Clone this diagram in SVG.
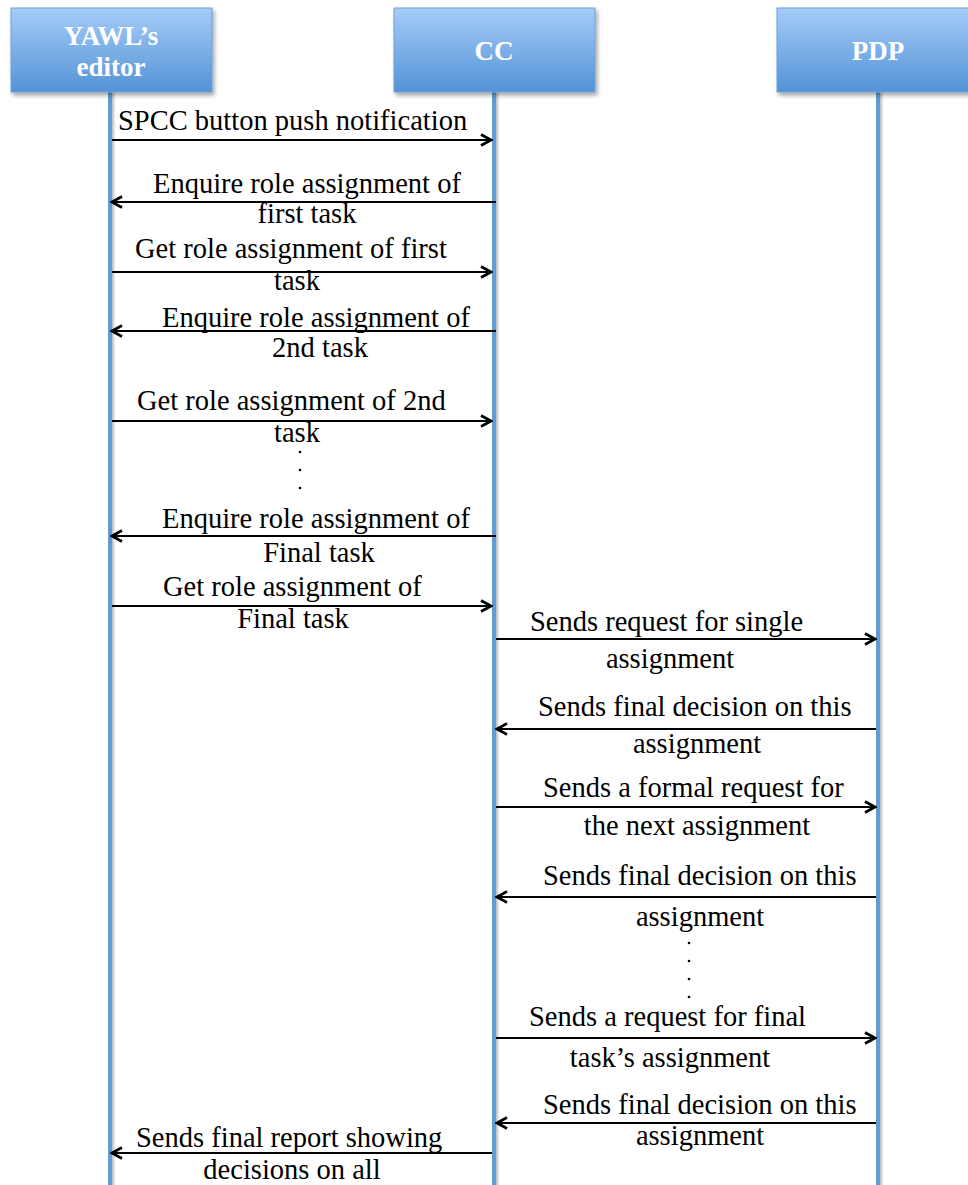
<svg xmlns="http://www.w3.org/2000/svg" width="968" height="1185" viewBox="0 0 968 1185">
  <style>
    .head { fill: url(#headFill); stroke: #6a9fd8; stroke-width: 1; filter: url(#shadow); }
    .headText { font-family: "Liberation Serif", serif; font-weight: bold; font-size: 27px; fill: #ffffff; text-anchor: middle; }
    .life { fill: #5f9bd6; filter: url(#lineShadow); }
    .msg { stroke: #000000; stroke-width: 2; fill: none; marker-end: url(#arrow); }
    .lbl { font-family: "Liberation Serif", serif; font-size: 28.5px; fill: #000000; }
    .mid { text-anchor: middle; }
    .dot { fill: #000000; }
  </style>
  <defs>
    <linearGradient id="headFill" x1="0" y1="0" x2="0" y2="1">
      <stop offset="0" stop-color="#a6ccf9"/>
      <stop offset="1" stop-color="#5393d6"/>
    </linearGradient>
    <filter id="shadow" x="-10%" y="-10%" width="130%" height="140%">
      <feDropShadow dx="2" dy="3" stdDeviation="2" flood-color="#000000" flood-opacity="0.35"/>
    </filter>
    <filter id="lineShadow" filterUnits="userSpaceOnUse" x="0" y="0" width="968" height="1185">
      <feDropShadow dx="2" dy="0" stdDeviation="1.2" flood-color="#000000" flood-opacity="0.25"/>
    </filter>
    <marker id="arrow" viewBox="0 0 14 14" refX="12" refY="7" markerWidth="14" markerHeight="14" markerUnits="userSpaceOnUse" orient="auto">
      <path d="M2,1.5 L12,7 L2,12.5" fill="none" stroke="#000000" stroke-width="2.6"/>
    </marker>
  </defs>

  <rect width="968" height="1185" fill="#ffffff"/>

  <!-- lifeline heads and their vertical lines -->
  <g id="yawl-editor">
    <rect class="life" x="108" y="92" width="4" height="1100"/>
    <rect class="head" x="11" y="8" width="201" height="84"/>
    <text class="headText" x="111" y="45">YAWL’s</text>
    <text class="headText" x="111" y="76">editor</text>
  </g>
  <g id="cc">
    <rect class="life" x="492" y="92" width="4" height="1100"/>
    <rect class="head" x="394" y="8" width="201" height="84"/>
    <text class="headText" x="494" y="60">CC</text>
  </g>
  <g id="pdp">
    <rect class="life" x="876" y="92" width="4" height="1100"/>
    <rect class="head" x="777" y="8" width="201" height="84"/>
    <text class="headText" x="878" y="60">PDP</text>
  </g>

  <!-- messages -->
  <g id="connectors">
    <line class="msg" x1="112" y1="140" x2="491" y2="140"/>
    <text class="lbl" x="118" y="130">SPCC button push notification</text>

    <line class="msg" x1="496" y1="202" x2="112" y2="202"/>
    <text class="lbl" x="153" y="193">Enquire role assignment of</text>
    <text class="lbl mid" x="307" y="223">first task</text>

    <line class="msg" x1="112" y1="272" x2="491" y2="272"/>
    <text class="lbl" x="135" y="258">Get role assignment of first</text>
    <text class="lbl mid" x="297" y="290">task</text>

    <line class="msg" x1="496" y1="331" x2="112" y2="331"/>
    <text class="lbl" x="162" y="327">Enquire role assignment of</text>
    <text class="lbl mid" x="320" y="357">2nd task</text>

    <line class="msg" x1="112" y1="421" x2="491" y2="421"/>
    <text class="lbl" x="137" y="410">Get role assignment of 2nd</text>
    <text class="lbl mid" x="297" y="442">task</text>

    <circle class="dot" cx="300" cy="452" r="1.3"/>
    <circle class="dot" cx="300" cy="470" r="1.3"/>
    <circle class="dot" cx="300" cy="488" r="1.3"/>

    <line class="msg" x1="496" y1="536" x2="112" y2="536"/>
    <text class="lbl" x="162" y="528">Enquire role assignment of</text>
    <text class="lbl mid" x="319" y="562">Final task</text>

    <line class="msg" x1="112" y1="606" x2="491" y2="606"/>
    <text class="lbl" x="163" y="596">Get role assignment of</text>
    <text class="lbl mid" x="293" y="628">Final task</text>

    <line class="msg" x1="496" y1="639" x2="875" y2="639"/>
    <text class="lbl" x="530" y="631">Sends request for single</text>
    <text class="lbl mid" x="670" y="668">assignment</text>

    <line class="msg" x1="876" y1="729" x2="497" y2="729"/>
    <text class="lbl" x="538" y="716">Sends final decision on this</text>
    <text class="lbl mid" x="697" y="753">assignment</text>

    <line class="msg" x1="496" y1="807" x2="875" y2="807"/>
    <text class="lbl" x="543" y="797">Sends a formal request for</text>
    <text class="lbl mid" x="697" y="835">the next assignment</text>

    <line class="msg" x1="876" y1="897" x2="497" y2="897"/>
    <text class="lbl" x="543" y="885">Sends final decision on this</text>
    <text class="lbl mid" x="700" y="926">assignment</text>

    <circle class="dot" cx="689" cy="943" r="1.3"/>
    <circle class="dot" cx="689" cy="961" r="1.3"/>
    <circle class="dot" cx="689" cy="979" r="1.3"/>
    <circle class="dot" cx="689" cy="997" r="1.3"/>

    <line class="msg" x1="496" y1="1038" x2="875" y2="1038"/>
    <text class="lbl" x="529" y="1026">Sends a request for final</text>
    <text class="lbl mid" x="670" y="1067">task’s assignment</text>

    <line class="msg" x1="876" y1="1123" x2="497" y2="1123"/>
    <text class="lbl" x="543" y="1114">Sends final decision on this</text>
    <text class="lbl mid" x="700" y="1145">assignment</text>

    <line class="msg" x1="492" y1="1153" x2="112" y2="1153"/>
    <text class="lbl" x="136" y="1147">Sends final report showing</text>
    <text class="lbl mid" x="292" y="1179">decisions on all</text>
  </g>
</svg>
